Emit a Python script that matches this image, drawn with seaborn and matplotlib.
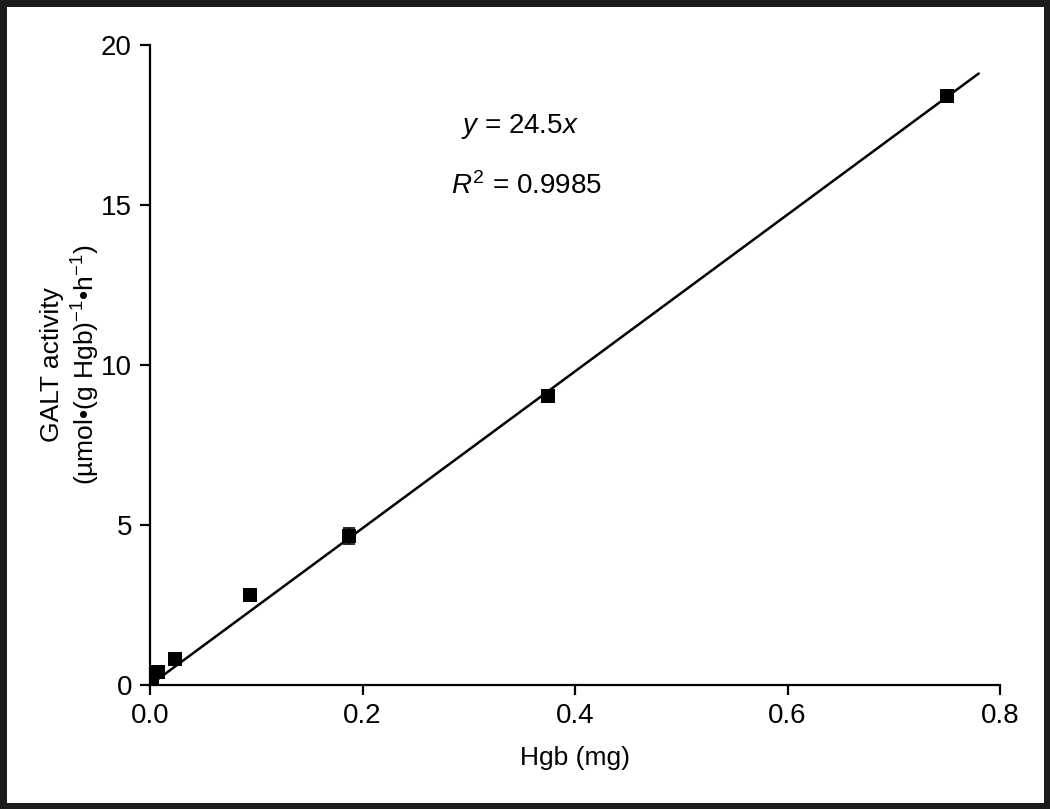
import numpy as np
import pandas as pd
import seaborn as sns
import matplotlib.pyplot as plt

sns.set_theme(style="ticks")
plt.rcParams['font.family'] = ['Liberation Sans', 'DejaVu Sans']
plt.rcParams['mathtext.fontset'] = 'custom'
plt.rcParams['mathtext.rm'] = 'Liberation Sans'
plt.rcParams['mathtext.it'] = 'Liberation Sans:italic'
plt.rcParams['text.color'] = 'black'
plt.rcParams['axes.labelcolor'] = 'black'

# measured points
hgb_mg = [0.002, 0.0075, 0.0234, 0.09375, 0.1875, 0.375, 0.75]
galt = [0.1, 0.42, 0.8, 2.82, 4.65, 9.02, 18.4]
galt_sd = [0.05, 0.05, 0.08, 0.12, 0.25, 0.15, 0.15]

# linear fit through origin
slope = 24.5
r2 = 0.9985
fit_x = [0.0, 0.78]

df = pd.DataFrame({'Hgb': hgb_mg, 'GALT': galt, 'sd': galt_sd})
fit = pd.DataFrame({'x': fit_x, 'y': [slope * v for v in fit_x]})

fig = plt.figure(figsize=(10.5, 8.09), dpi=100)
fig.patch.set_edgecolor('#1c1c1c')
fig.patch.set_linewidth(9)
ax = fig.add_axes([0.1429, 0.1533, 0.8095, 0.7911])

sns.lineplot(data=fit, x='x', y='y', color='black', linewidth=1.8, ax=ax)
ax.errorbar(df['Hgb'], df['GALT'], yerr=df['sd'], fmt='none', ecolor='black',
            elinewidth=1.2, capsize=4, capthick=1.2)
sns.scatterplot(data=df, x='Hgb', y='GALT', marker='s', s=100, color='black',
                linewidth=0, ax=ax, zorder=5)

ax.set_xlim(0, 0.8)
ax.set_ylim(0, 20)
ax.set_xticks([0.0, 0.2, 0.4, 0.6, 0.8])
ax.set_xticklabels(['0.0', '0.2', '0.4', '0.6', '0.8'])
ax.set_yticks([0, 5, 10, 15, 20])
sns.despine(ax=ax)
for s in ['left', 'bottom']:
    ax.spines[s].set_linewidth(1.6)
    ax.spines[s].set_color('black')
ax.tick_params(direction='out', length=7, width=1.6, labelsize=20,
               colors='black', pad=6)

ax.set_xlabel('Hgb (mg)', fontsize=19, labelpad=12)
ax.set_ylabel('GALT activity\n(µmol•(g Hgb)$^{-1}$•h$^{-1}$)', fontsize=19,
              linespacing=1.25)
ax.yaxis.set_label_coords(-0.056, 0.5)

ax.text(0.348, 17.44, r'$\it{y}$ = %.1f$\it{x}$' % slope, fontsize=20,
        ha='center', va='center')
ax.text(0.354, 15.6, r'$\it{R}^2$ = %.4f' % r2, fontsize=20,
        ha='center', va='center')

fig.savefig('out.png', dpi=100)
